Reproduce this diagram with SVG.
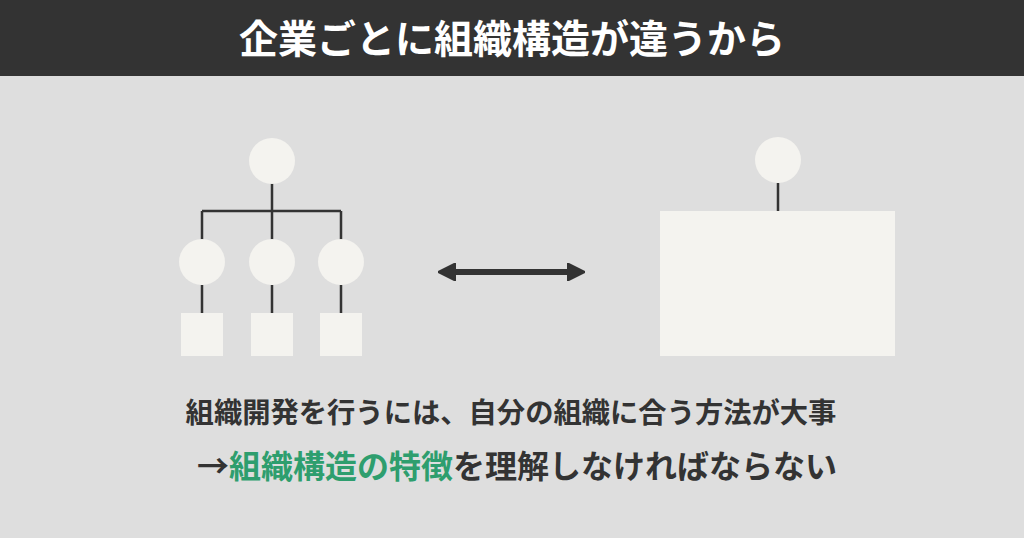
<svg xmlns="http://www.w3.org/2000/svg" width="1024" height="538" viewBox="0 0 1024 538">
<style>
.n{fill:#f4f3ef}
.c{stroke:#333;stroke-width:2.5;fill:none}
.t{font-family:"Noto Sans CJK JP",sans-serif;font-weight:bold;text-anchor:middle}
</style>
<defs><marker id="a" viewBox="0 0 10 10" refX="5" refY="5" markerWidth="3" markerHeight="3" orient="auto-start-reverse"><path d="M0,0L10,5L0,10z" fill="#333" stroke="#333" stroke-linejoin="round"/></marker></defs>
<rect width="1024" height="538" fill="#dedede"/>
<rect width="1024" height="76" fill="#333"/>
<text class="t" x="512" y="53" font-size="39" fill="#fff">企業ごとに組織構造が違うから</text>
<g id="connectors">
<path class="c" d="M272,183V211M202,211H341M202,211V240M272,211V240M341,211V240M202,285V313M272,285V313M341,285V313M778,183V211"/>
<path d="M447,272H576" stroke="#333" stroke-width="6" marker-start="url(#a)" marker-end="url(#a)"/>
</g>
<g id="top"><circle class="n" cx="272" cy="161" r="23"/></g>
<g id="m1"><circle class="n" cx="202" cy="262" r="23"/></g>
<g id="m2"><circle class="n" cx="272" cy="262" r="23"/></g>
<g id="m3"><circle class="n" cx="341" cy="262" r="23"/></g>
<g id="s1"><rect class="n" x="181" y="313" width="42" height="43"/></g>
<g id="s2"><rect class="n" x="251" y="313" width="42" height="43"/></g>
<g id="s3"><rect class="n" x="320" y="313" width="42" height="43"/></g>
<g id="rtop"><circle class="n" cx="778" cy="160" r="23"/></g>
<g id="rbox"><rect class="n" x="660" y="211" width="235" height="145"/></g>
<text class="t" x="511" y="423" font-size="28.3" fill="#333">組織開発を行うには、自分の組織に合う方法が大事</text>
<text class="t" x="517" y="478" font-size="32" fill="#333">→<tspan fill="#2e9e6e">組織構造の特徴</tspan>を理解しなければならない</text>
</svg>
